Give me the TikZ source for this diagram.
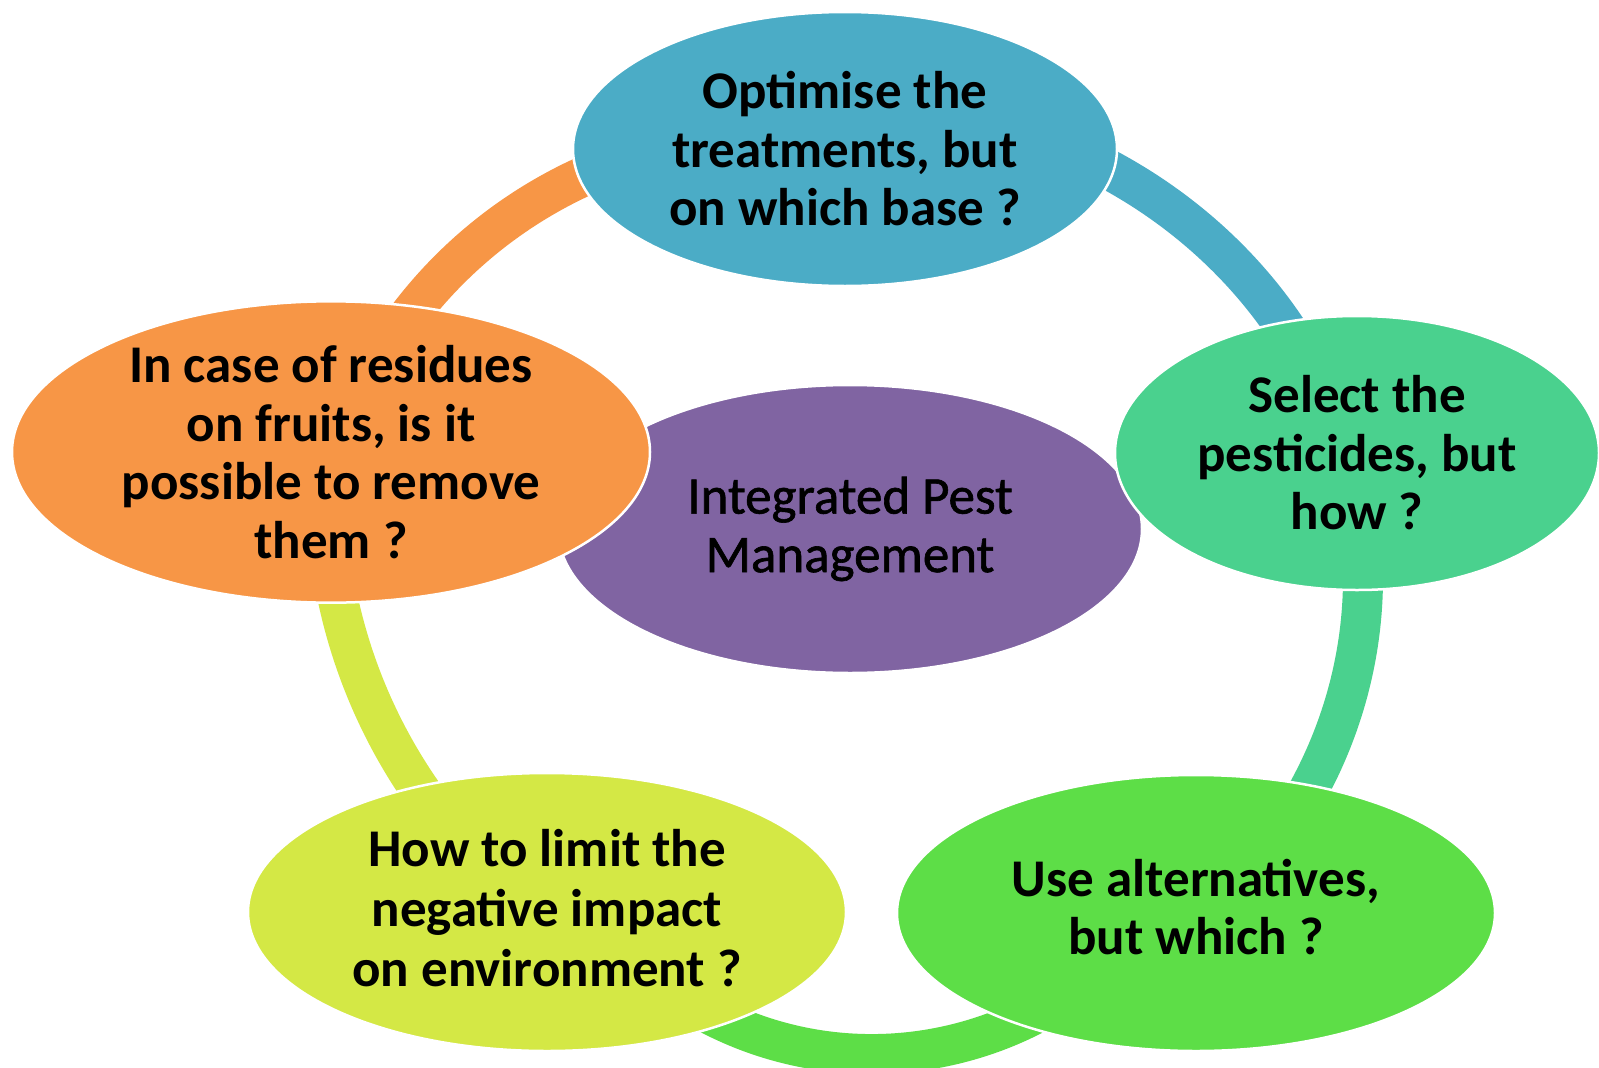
\documentclass[tikz,border=0pt]{standalone}
\usepackage{fontspec}
\setmainfont{Carlito}
\newfontfamily\semibold[FakeBold=1.2]{Carlito}
\usetikzlibrary{shapes.geometric,backgrounds}
\definecolor{cBlue}{HTML}{4BACC6}
\definecolor{cTeal}{HTML}{4AD18E}
\definecolor{cGreen}{HTML}{5DDE47}
\definecolor{cYell}{HTML}{D4E845}
\definecolor{cOran}{HTML}{F79646}
\definecolor{cPurp}{HTML}{8064A2}
\tikzset{
  bub/.style={ellipse, draw=white, line width=2.5pt, inner sep=0pt, align=center, text=black,
    font=\bfseries\fontsize{53}{58.5}\selectfont},
  ringseg/.style={line width=40pt, line cap=butt}
}
% #1 colour, #2 centre name, #3 start, #4 end, #5 x radius, #6 y radius
\newcommand\ringarc[6]{\draw[ringseg,#1] ([shift={(#3:#5 and #6)}]#2) arc[start angle=#3, end angle=#4, x radius=#5, y radius=#6];}
\begin{document}
\begin{tikzpicture}[x=1pt,y=-1pt]
\useasboundingbox (0,0) rectangle (1599,1068);
\coordinate (ring) at (850,578);
\coordinate (ringG) at (872,702);
\coordinate (ringY) at (861,487);
\coordinate (ringO) at (774,594);
\node[bub, fill=cPurp, minimum width=584pt, minimum height=288pt, font=\semibold\fontsize{53}{58.5}\selectfont] (ipm) at (850,529) {Integrated Pest\\Management};
\node[bub, fill=cBlue, minimum width=544pt, minimum height=274pt] (top) at (845,149) {Optimise the\\treatments, but\\on which base ?};
\node[bub, fill=cTeal, minimum width=484pt, minimum height=274pt] (right) at (1357,453) {Select the\\pesticides, but\\how ?};
\node[bub, fill=cGreen, minimum width=598pt, minimum height=276pt] (bright) at (1196,913) {};
\node[font=\bfseries\fontsize{53}{58.5}\selectfont, align=center, inner sep=0pt] (brighttxt) at (1196,907) {Use alternatives,\\but which ?};
\node[bub, fill=cYell, minimum width=598pt, minimum height=278pt] (bleft) at (547,912) {};
\node[font=\bfseries\fontsize{53}{60}\selectfont, align=center, inner sep=0pt] (blefttxt) at (547,908) {How to limit the\\negative impact\\on environment ?};
\node[bub, fill=cOran, minimum width=638pt, minimum height=276pt] (left) at (331,452) {In case of residues\\on fruits, is it\\possible to remove\\them ?};
\begin{pgfonlayer}{background}
\fill[white] (0,0) rectangle (1599,1068);
\ringarc{cBlue}{ring}{-90}{-15}{513}{473}
\ringarc{cTeal}{ring}{-15}{46.4}{513}{473}
\ringarc{cGreen}{ringG}{30}{150}{352}{352}
\ringarc{cYell}{ringY}{125}{190}{535}{535}
\ringarc{cOran}{ringO}{200}{270}{459}{459}
\end{pgfonlayer}
\end{tikzpicture}
\end{document}
